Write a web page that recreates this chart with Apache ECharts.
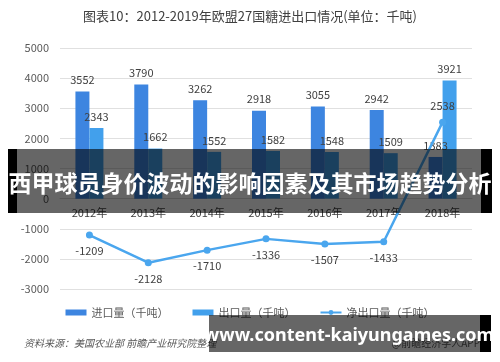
<!DOCTYPE html>
<html>
<head>
<meta charset="utf-8">
<script src="https://cdn.jsdelivr.net/npm/echarts@6/dist/echarts.min.js"></script>
<style>
html,body{margin:0;padding:0;background:#fff;}
#chart{width:500px;height:362px;}
</style>
</head>
<body>
<div id="chart"></div>
<script>
var categories = ['2012年','2013年','2014年','2015年','2016年','2017年','2018年'];
var importValues = [3552, 3790, 3262, 2918, 3055, 2942, 1383];
var exportValues = [2343, 1662, 1552, 1582, 1548, 1509, 3921];
var netValues = [-1209, -2128, -1710, -1336, -1507, -1433, 2538];
var seriesNames = ['进口量（千吨）', '出口量（千吨）', '净出口量（千吨）'];
var titleText = '图表10：2012-2019年欧盟27国糖进出口情况(单位：千吨)';
var sourceText = '资料来源：美国农业部 前瞻产业研究院整理';
var brandText = '@前瞻经济学人APP';
var bannerText = '西甲球员身价波动的影响因素及其市场趋势分析';
var urlText = 'www.content-kaiyungames.com';

var Y_MIN = -3000, Y_MAX = 5000;
var GRID_TOP = 48, GRID_BOTTOM = 73, H = 362;
var gridH = H - GRID_TOP - GRID_BOTTOM;
var zeroOffset = -gridH * (0 - Y_MIN) / (Y_MAX - Y_MIN);

var FONT = '"Noto Sans CJK SC", "Noto Sans", sans-serif';
var chart = echarts.init(document.getElementById('chart'), null, {renderer: 'canvas'});

var netData = netValues.map(function (v) {
  return {value: v, label: {position: v >= 0 ? 'top' : 'bottom'}};
});

chart.setOption({
  animation: false,
  backgroundColor: '#ffffff',
  textStyle: {fontFamily: FONT},
  title: {
    text: titleText,
    left: 'center',
    top: 5,
    textStyle: {fontSize: 13, fontWeight: 'normal', color: '#404040', fontFamily: FONT}
  },
  legend: {
    bottom: 39,
    left: 'center',
    itemWidth: 21,
    itemHeight: 6,
    itemGap: 24,
    textStyle: {fontSize: 11, color: '#595959', fontFamily: FONT},
    data: [
      {name: seriesNames[0], icon: 'rect'},
      {name: seriesNames[1], icon: 'rect'},
      {name: seriesNames[2]}
    ]
  },
  grid: {left: 60, right: 28, top: GRID_TOP, bottom: GRID_BOTTOM, containLabel: false},
  xAxis: {
    type: 'category',
    data: categories,
    position: 'bottom',
    offset: zeroOffset,
    axisLine: {onZero: false, lineStyle: {color: '#d9d9d9'}},
    axisTick: {show: false},
    axisLabel: {fontSize: 11, color: '#404040', margin: 9, fontFamily: FONT}
  },
  yAxis: {
    type: 'value',
    min: Y_MIN,
    max: Y_MAX,
    interval: 1000,
    axisLine: {show: false},
    axisTick: {show: false},
    axisLabel: {fontSize: 11, color: '#595959', margin: 11, fontFamily: FONT,
      formatter: function (v) { return String(v); }},
    splitLine: {lineStyle: {color: '#e0e0e0'}}
  },
  series: [
    {
      name: seriesNames[0],
      type: 'bar',
      data: importValues,
      barWidth: 14,
      barGap: '0%',
      itemStyle: {color: '#3d85e0'},
      label: {show: true, position: 'top', fontSize: 11, color: '#404040', distance: 6, fontFamily: FONT}
    },
    {
      name: seriesNames[1],
      type: 'bar',
      data: exportValues,
      barWidth: 14,
      itemStyle: {color: '#42a0ec'},
      label: {show: true, position: 'top', fontSize: 11, color: '#404040', distance: 6, fontFamily: FONT}
    },
    {
      name: seriesNames[2],
      type: 'line',
      data: netData,
      symbol: 'circle',
      symbolSize: 7,
      z: 5,
      lineStyle: {width: 2.5, color: '#4aa6ee'},
      itemStyle: {color: '#4aa6ee'},
      label: {show: true, fontSize: 11, color: '#404040', distance: 7, fontFamily: FONT}
    }
  ],
  graphic: [
    {type: 'text', left: 24, top: 338, z: 10,
     style: {text: sourceText, font: 'italic 10px ' + FONT, fill: '#595959'}},
    {type: 'text', right: 20, top: 338, z: 10,
     style: {text: brandText, font: '10px ' + FONT, fill: '#595959'}},
    {type: 'rect', z: 100, shape: {x: 8, y: 149, width: 484, height: 64}, style: {fill: 'rgba(0,0,0,0.6)'}},
    {type: 'rect', z: 101, shape: {x: 8, y: 149, width: 9, height: 64}, style: {fill: '#000'}},
    {type: 'rect', z: 101, shape: {x: 481, y: 149, width: 11, height: 64}, style: {fill: '#000'}},
    {type: 'text', z: 102, x: 250, y: 183,
     style: {text: bannerText, font: 'bold 23px "Noto Sans CJK SC", sans-serif', fill: '#ffffff', textAlign: 'center', textVerticalAlign: 'middle'}},
    {type: 'rect', z: 100, shape: {x: 209, y: 315, width: 282, height: 37}, style: {fill: 'rgba(0,0,0,0.6)'}},
    {type: 'rect', z: 101, shape: {x: 480, y: 315, width: 11, height: 37}, style: {fill: '#000'}},
    {type: 'text', z: 102, x: 349, y: 336,
     style: {text: urlText, font: 'bold 18px "Noto Sans", "DejaVu Sans", sans-serif', fill: '#ffffff', textAlign: 'center', textVerticalAlign: 'middle'}}
  ]
});
</script>
</body>
</html>
